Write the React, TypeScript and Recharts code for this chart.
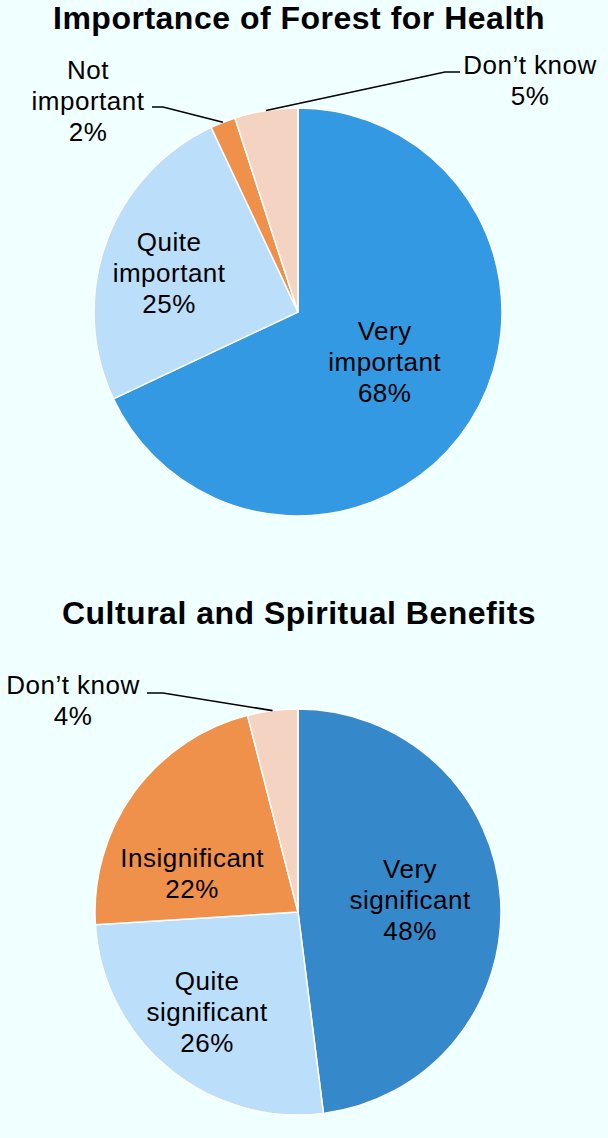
import { PieChart, Pie, Cell } from 'recharts'

// Importance of Forest for Health
const healthNames = ['Very important', 'Quite important', 'Not important', 'Don’t know']
const healthLines = [['Very', 'important'], ['Quite', 'important'], ['Not', 'important'], ['Don’t know']]
const healthValues = [68, 25, 2, 5]

// Cultural and Spiritual Benefits
const cultureNames = ['Very significant', 'Quite significant', 'Insignificant', 'Don’t know']
const cultureLines = [['Very', 'significant'], ['Quite', 'significant'], ['Insignificant'], ['Don’t know']]
const cultureValues = [48, 26, 22, 4]

const healthColors = ['#3399E3', '#BBDEFB', '#F0914B', '#F5D3C2']
const cultureColors = ['#3589CB', '#BBDEFB', '#F0914B', '#F5D3C2']

const healthData = healthNames.map((name, i) => ({ name, value: healthValues[i] }))
const cultureData = cultureNames.map((name, i) => ({ name, value: cultureValues[i] }))

const FONT = '"Liberation Sans", Arial, sans-serif'
const RAD = Math.PI / 180
const LINE_H = 31

type LabelPos =
  | { kind: 'in'; f: number; da: number }
  | { kind: 'out'; elbow: [number, number]; tail: number; text: [number, number] }

// label placement, relative to the pie centre
const healthLayout: LabelPos[] = [
  { kind: 'in', f: 0.49, da: 2.5 },
  { kind: 'in', f: 0.66, da: 3 },
  { kind: 'out', elbow: [-135, -205], tail: -11, text: [-210, -242] },
  { kind: 'out', elbow: [147, -240], tail: 15, text: [232, -247] },
]
const cultureLayout: LabelPos[] = [
  { kind: 'in', f: 0.555, da: 2.4 },
  { kind: 'in', f: 0.665, da: -2.7 },
  { kind: 'in', f: 0.555, da: 16 },
  { kind: 'out', elbow: [-135, -219], tail: -16, text: [-225, -227] },
]

function pieLabel(lines: string[][], layout: LabelPos[], names: string[]) {
  return (props: any) => {
    const { cx, cy, midAngle, outerRadius, value, name } = props
    const index = props.index ?? names.indexOf(name)
    const pos = layout[index]
    const txt = [...lines[index], `${value}%`]
    const textProps = { fill: '#000', fontSize: 26, fontFamily: FONT, letterSpacing: 0.5, textAnchor: 'middle' as const }
    if (pos.kind === 'in') {
      const a = (midAngle + pos.da) * RAD
      const x = cx + outerRadius * pos.f * Math.cos(-a)
      const y = cy + outerRadius * pos.f * Math.sin(-a)
      const top = y - ((txt.length - 1) * LINE_H) / 2
      return (
        <text {...textProps}>
          {txt.map((t, i) => (
            <tspan key={i} x={x} y={top + i * LINE_H + 9}>{t}</tspan>
          ))}
        </text>
      )
    }
    const a = midAngle * RAD
    const sx = cx + outerRadius * Math.cos(-a)
    const sy = cy + outerRadius * Math.sin(-a)
    const ex = cx + pos.elbow[0]
    const ey = cy + pos.elbow[1]
    const tx = cx + pos.text[0]
    const ty = cy + pos.text[1]
    return (
      <g>
        <polyline
          points={`${sx},${sy} ${ex},${ey} ${ex + pos.tail},${ey}`}
          fill="none" stroke="#000" strokeWidth={1.6}
        />
        <text {...textProps}>
          {txt.map((t, i) => (
            <tspan key={i} x={tx} y={ty + i * LINE_H + 9}>{t}</tspan>
          ))}
        </text>
      </g>
    )
  }
}

const titleStyle = {
  position: 'absolute' as const, left: 0, width: 598, textAlign: 'center' as const,
  fontFamily: FONT, fontWeight: 700, fontSize: 32, lineHeight: '32px',
  letterSpacing: 0.5, color: '#000',
}

export default function App() {
  return (
    <div style={{ position: 'absolute', left: 0, top: 0, width: 608, height: 1138, background: '#F0FFFF', overflow: 'hidden' }}>
      <PieChart
        width={608} height={1138}
        margin={{ top: 0, right: 0, bottom: 0, left: 0 }}
        style={{ position: 'absolute', left: 0, top: 0 }}
      >
        <Pie
          data={healthData} dataKey="value" nameKey="name"
          cx={298} cy={312} outerRadius={204} startAngle={90} endAngle={-270}
          stroke="#FFFFFF" strokeWidth={1.5}
          label={pieLabel(healthLines, healthLayout, healthNames)} labelLine={false}
          isAnimationActive={false}
        >
          {healthData.map((d, i) => <Cell key={d.name} fill={healthColors[i]} />)}
        </Pie>
        <Pie
          data={cultureData} dataKey="value" nameKey="name"
          cx={298} cy={912} outerRadius={203} startAngle={90} endAngle={-270}
          stroke="#FFFFFF" strokeWidth={1.5}
          label={pieLabel(cultureLines, cultureLayout, cultureNames)} labelLine={false}
          isAnimationActive={false}
        >
          {cultureData.map((d, i) => <Cell key={d.name} fill={cultureColors[i]} />)}
        </Pie>
      </PieChart>
      <div style={{ ...titleStyle, top: 2 }}>Importance of Forest for Health</div>
      <div style={{ ...titleStyle, top: 597 }}>Cultural and Spiritual Benefits</div>
    </div>
  )
}
